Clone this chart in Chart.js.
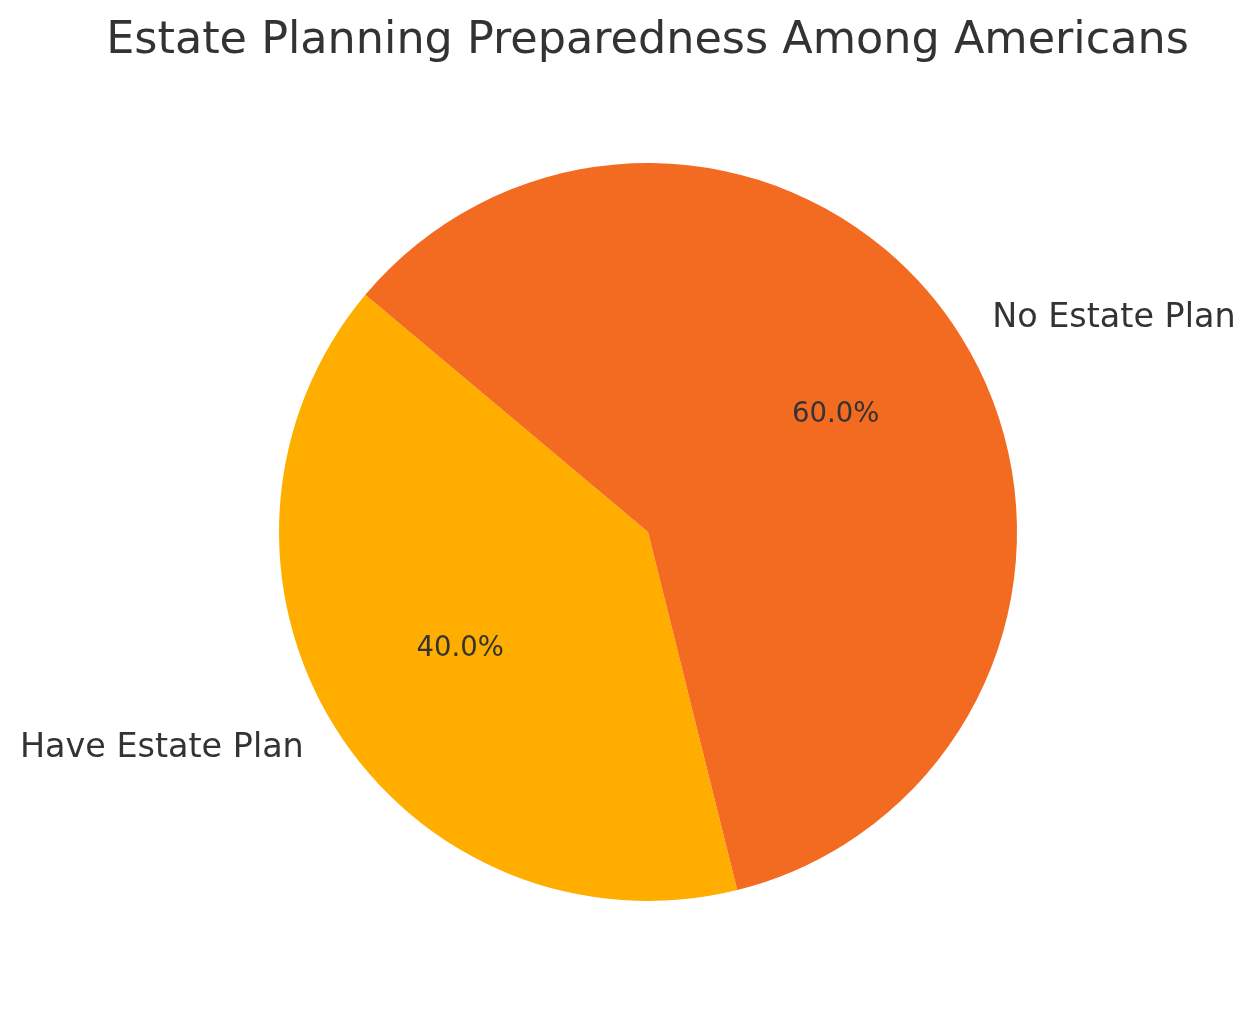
<!DOCTYPE html>
<html>
<head>
<meta charset="utf-8">
<script src="https://cdn.jsdelivr.net/npm/chart.js@4"></script>
<style>
    html, body { margin: 0; padding: 0; background: #ffffff; }
    #wrap { width: 1255px; height: 1014px; }
</style>
</head>
<body>
<div id="wrap"><canvas id="estateChart" width="1255" height="1014"></canvas></div>
<script>
const labels = ["Have Estate Plan", "No Estate Plan"];
const shares = [40, 60];
const colors = ["#FFAE00", "#F36A21"];
const titleText = "Estate Planning Preparedness Among Americans";

const textColor = "#333333";
const fontFamily = "'DejaVu Sans', sans-serif";

// title + slice labels drawn like matplotlib pie (labels at 1.1r, pct at 0.6r)
const pieLabels = {
    id: "pieLabels",
    afterDatasetsDraw(chart) {
        const ctx = chart.ctx;
        const meta = chart.getDatasetMeta(0);
        const total = shares.reduce((a, b) => a + b, 0);

        ctx.save();
        ctx.fillStyle = textColor;

        // title
        ctx.font = `44.5px ${fontFamily}`;
        ctx.textAlign = "center";
        ctx.textBaseline = "alphabetic";
        ctx.fillText(titleText, chart.width / 2 + 20, 53);

        meta.data.forEach((arc, i) => {
            const mid = (arc.startAngle + arc.endAngle) / 2;
            const r = arc.outerRadius;
            const cos = Math.cos(mid);
            const sin = Math.sin(mid);

            // category label
            const lx = arc.x + cos * r * 1.1;
            const ly = arc.y + sin * r * 1.1;
            ctx.font = `33.4px ${fontFamily}`;
            ctx.textAlign = cos >= 0 ? "left" : "right";
            ctx.fillText(labels[i], lx, ly + 10);

            // percent label
            const px = arc.x + cos * r * 0.6;
            const py = arc.y + sin * r * 0.6;
            ctx.font = `27.5px ${fontFamily}`;
            ctx.textAlign = "center";
            ctx.fillText(((shares[i] / total) * 100).toFixed(1) + "%", px, py + 7);
        });

        ctx.restore();
    },
};

const ctx = document.getElementById("estateChart").getContext("2d");

new Chart(ctx, {
    type: "pie",
    data: {
        labels: labels,
        datasets: [
            {
                data: shares,
                backgroundColor: colors,
                borderWidth: 0,
                hoverOffset: 0,
            },
        ],
    },
    options: {
        responsive: false,
        animation: false,
        rotation: 166,
        layout: {
            padding: { left: 279, right: 238, top: 163, bottom: 113 },
        },
        plugins: {
            legend: { display: false },
            title: { display: false },
            tooltip: { enabled: false },
        },
    },
    plugins: [pieLabels],
});
</script>
</body>
</html>
